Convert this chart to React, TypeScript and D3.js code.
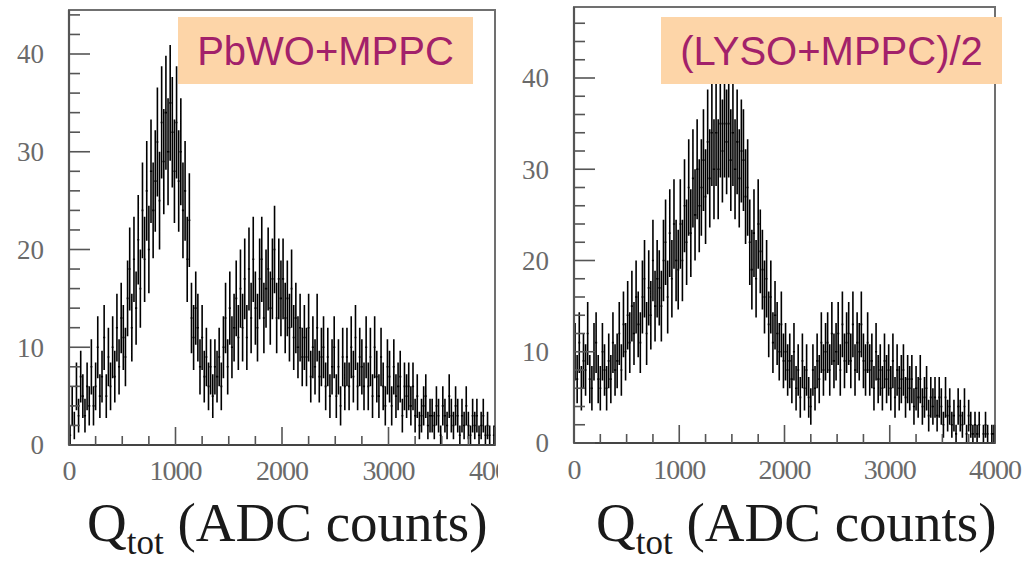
import React from "react";
import * as d3 from "d3";

// ---------------- data ----------------
const BIN_WIDTH = 20; // ADC counts per bin
const X_TICKS = [0, 1000, 2000, 3000, 4000];
const Y_TICKS = [0, 10, 20, 30, 40];
const X_TITLE_MAIN = "Q";
const X_TITLE_SUB = "tot";
const X_TITLE_REST = " (ADC counts)";

const PBWO_LABEL = "PbWO+MPPC";
const PBWO_COUNTS = [
  1, 4, 2, 6, 3, 7, 5, 3, 6, 4,
  8, 4, 6, 10, 5, 7, 11, 5, 9, 6,
  10, 7, 12, 8, 13, 11, 9, 15, 18, 12,
  19, 14, 21, 16, 24, 19, 26, 20, 28, 24,
  27, 31, 25, 33, 29, 34, 30, 35, 32, 28,
  33, 27, 30, 24, 26, 19, 23, 13, 11, 14,
  12, 8, 11, 7, 9, 6, 8, 5, 8, 7,
  9, 6, 10, 13, 8, 14, 10, 12, 15, 11,
  16, 12, 17, 11, 18, 13, 19, 14, 12, 17,
  19, 13, 16, 18, 14, 17, 20, 13, 17, 15,
  17, 13, 15, 12, 16, 11, 13, 10, 12, 9,
  11, 9, 12, 7, 10, 8, 12, 7, 9, 10,
  6, 9, 5, 8, 10, 5, 8, 4, 9, 6,
  9, 6, 10, 7, 11, 6, 9, 8, 6, 10,
  6, 9, 5, 10, 7, 5, 9, 6, 4, 8,
  7, 4, 8, 5, 6, 7, 3, 6, 5, 6,
  4, 6, 3, 5, 2, 3, 4, 5, 2, 3,
  3, 2, 4, 3, 1, 4, 3, 2, 5, 3,
  2, 4, 3, 1, 3, 2, 4, 2, 1, 3,
  2, 3, 1, 2, 3, 1, 2, 1, 0, 1,
];

const LYSO_LABEL = "(LYSO+MPPC)/2";
const LYSO_COUNTS = [
  10, 7, 11, 6, 9, 8, 12, 7, 6, 10,
  11, 7, 6, 10, 8, 6, 9, 7, 11, 8,
  9, 12, 8, 13, 10, 14, 11, 15, 12, 16,
  13, 11, 16, 18, 12, 17, 14, 20, 15, 18,
  17, 15, 20, 22, 16, 23, 18, 24, 20, 19,
  24, 20, 26, 22, 28, 23, 29, 25, 30, 26,
  28, 31, 27, 33, 29, 34, 30, 34, 30, 35,
  32, 35, 33, 35, 31, 34, 30, 33, 29, 32,
  31, 27, 28, 22, 19, 23, 18, 24, 21, 19,
  16, 18, 13, 16, 11, 14, 12, 10, 13, 9,
  10, 8, 9, 7, 10, 6, 8, 5, 9, 6,
  8, 5, 4, 8, 6, 9, 7, 11, 8, 10,
  11, 8, 12, 9, 10, 12, 8, 13, 9, 11,
  12, 9, 13, 8, 11, 10, 13, 9, 8, 11,
  8, 9, 6, 10, 7, 8, 6, 9, 7, 8,
  6, 9, 5, 8, 6, 7, 8, 5, 7, 6,
  7, 4, 6, 5, 7, 4, 5, 6, 3, 5,
  4, 5, 3, 5, 4, 2, 5, 3, 4, 2,
  3, 1, 4, 3, 2, 4, 1, 3, 2, 1,
  2, 1, 2, 0, 1, 2, 1, 0, 1, 1,
];

// ---------------- layout ----------------
const W = 1029;
const H = 561;

type PanelCfg = {
  counts: number[];
  label: string;
  xr: [number, number];
  y0: number;
  y40: number;
  top: number;
  box: [number, number, number, number];
  labelRight: number;
  xLabelBaseline: number;
  titleX: number;
  clipRight: number;
};

const PANELS: PanelCfg[] = [
  {
    counts: PBWO_COUNTS,
    label: PBWO_LABEL,
    xr: [69, 495],
    y0: 445,
    y40: 54,
    top: 10,
    box: [178, 17, 473, 84],
    labelRight: 44,
    xLabelBaseline: 480,
    titleX: 87,
    clipRight: 498,
  },
  {
    counts: LYSO_COUNTS,
    label: LYSO_LABEL,
    xr: [574, 995],
    y0: 443,
    y40: 78,
    top: 7,
    box: [661, 17, 1002, 84],
    labelRight: 549,
    xLabelBaseline: 479,
    titleX: 596,
    clipRight: W,
  },
];

const SERIF = "'Liberation Serif', 'DejaVu Serif', serif";
const SANS = "'Liberation Sans', Arial, sans-serif";

function Panel({ cfg, idx }: { cfg: PanelCfg; idx: number }) {
  const x = d3.scaleLinear().domain([0, 4000]).range(cfg.xr);
  const y = d3.scaleLinear().domain([0, 40]).range([cfg.y0, cfg.y40]);
  const yMaxVal = y.invert(cfg.top);

  // histogram with error bars
  const p = d3.path();
  cfg.counts.forEach((v, i) => {
    const a = x(i * BIN_WIDTH);
    const b = x((i + 1) * BIN_WIDTH);
    const c = x((i + 0.5) * BIN_WIDTH);
    p.moveTo(a, y(v));
    p.lineTo(b, y(v));
    const e = Math.sqrt(v);
    if (e > 0) {
      p.moveTo(c, y(Math.max(0, v - e)));
      p.lineTo(c, y(Math.min(yMaxVal, v + e)));
    }
  });

  const yMinor = d3.range(0, Math.floor(yMaxVal) + 1, 2);
  const xMinor = d3.range(0, 4001, 250);
  const [l, r] = cfg.xr;
  const clipId = `clip-${idx}`;

  return (
    <g>
      <defs>
        <clipPath id={clipId}>
          <rect x={0} y={0} width={cfg.clipRight} height={H} />
        </clipPath>
      </defs>
      {/* frame */}
      <rect x={l} y={cfg.top} width={r - l} height={cfg.y0 - cfg.top} fill="none" stroke="#707070" strokeWidth={2} />
      {/* histogram */}
      <path d={p.toString()} fill="none" stroke="#000" strokeWidth={1.6} />
      {/* axes lines */}
      <line x1={l} x2={r} y1={cfg.y0} y2={cfg.y0} stroke="#444" strokeWidth={2.2} />
      <line x1={l} x2={l} y1={cfg.top} y2={cfg.y0} stroke="#555" strokeWidth={2.2} />
      {/* y ticks */}
      {yMinor.map((t) => (
        <line key={`yt${t}`} x1={l} x2={l + (t % 10 === 0 ? 21 : 11)} y1={y(t)} y2={y(t)} stroke="#555" strokeWidth={1.6} />
      ))}
      {/* x ticks */}
      {xMinor.map((t) => (
        <line key={`xt${t}`} x1={x(t)} x2={x(t)} y1={cfg.y0} y2={cfg.y0 - (t % 1000 === 0 ? 18 : 9)} stroke="#555" strokeWidth={1.6} />
      ))}
      <g clipPath={`url(#${clipId})`}>
        {/* y labels */}
        {Y_TICKS.map((t) => (
          <text key={`yl${t}`} x={cfg.labelRight} y={y(t)} dy="0.35em" textAnchor="end" fontFamily={SERIF} fontSize={27} fill="#6a6a6a">
            {t}
          </text>
        ))}
        {/* x labels */}
        {X_TICKS.map((t) => (
          <text key={`xl${t}`} x={x(t)} y={cfg.xLabelBaseline} textAnchor="middle" fontFamily={SERIF} fontSize={28} fill="#6a6a6a" letterSpacing={-1}>
            {t}
          </text>
        ))}
      </g>
      {/* x title */}
      <text x={cfg.titleX} y={541} fontFamily={SERIF} fontSize={55} fill="#1a1a1a">
        {X_TITLE_MAIN}
        <tspan fontSize={35} dy={13}>{X_TITLE_SUB}</tspan>
        <tspan dy={-13}>{X_TITLE_REST}</tspan>
      </text>
      {/* label box */}
      <rect x={cfg.box[0]} y={cfg.box[1]} width={cfg.box[2] - cfg.box[0]} height={cfg.box[3] - cfg.box[1]} fill="#FDD5A8" />
      <text x={(cfg.box[0] + cfg.box[2]) / 2} y={65} textAnchor="middle" fontFamily={SANS} fontSize={40} fill="#A2216A">
        {cfg.label}
      </text>
    </g>
  );
}

export default function App() {
  return (
    <svg width={W} height={H} style={{ position: "absolute", left: 0, top: 0, background: "#fff" }}>
      <rect x={0} y={0} width={W} height={H} fill="#fff" />
      {PANELS.map((cfg, i) => (
        <Panel key={i} cfg={cfg} idx={i} />
      ))}
    </svg>
  );
}
